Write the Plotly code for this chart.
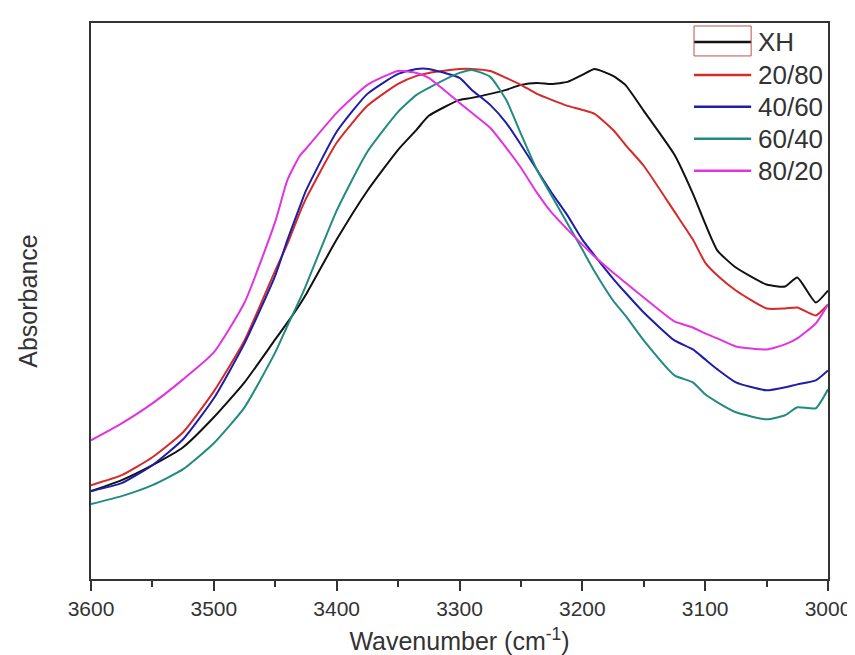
import plotly.graph_objects as go

# Wavenumber grid (cm^-1), descending
wavenumber = [3600, 3575, 3550, 3525, 3500, 3475, 3450, 3440, 3430, 3425,
              3400, 3375, 3350, 3335, 3325, 3300, 3290, 3275, 3262, 3250,
              3237, 3225, 3212, 3200, 3190, 3175, 3165, 3150, 3125, 3110,
              3100, 3090, 3075, 3050, 3035, 3025, 3010, 3000]

# Absorbance (arbitrary units)
xh = [88, 99, 114, 132, 162, 197, 240, 257, 275, 285,
      340, 389, 430, 450, 464, 480, 482, 486, 490, 495,
      497, 496, 498, 505, 511, 504, 495, 469, 425, 386,
      356, 329, 312, 295, 293, 302, 277, 289]
s20_80 = [94, 104, 122, 147, 188, 239, 309, 336, 367, 381,
          437, 474, 496, 504, 507, 511, 511, 509, 502, 495,
          486, 480, 474, 470, 466, 450, 435, 414, 368, 340,
          317, 304, 289, 271, 271, 272, 264, 275]
s40_60 = [88, 96, 114, 140, 181, 236, 304, 340, 373, 389,
          448, 486, 506, 511, 511, 502, 490, 475, 457, 435,
          410, 387, 364, 340, 324, 301, 287, 267, 239, 230,
          220, 210, 197, 189, 192, 195, 199, 209]
s60_40 = [75, 83, 94, 110, 136, 172, 227, 254, 280, 294,
          369, 428, 468, 485, 492, 507, 510, 503, 480, 446,
          410, 384, 356, 330, 308, 279, 264, 239, 204, 197,
          185, 177, 167, 160, 164, 172, 171, 190]
s80_20 = [139, 156, 176, 200, 227, 277, 358, 400, 424, 431,
          467, 495, 509, 507, 502, 477, 467, 452, 432, 412,
          387, 367, 350, 335, 323, 307, 297, 282, 258, 252,
          246, 241, 233, 230, 235, 241, 256, 275]

names = ["XH", "20/80", "40/60", "60/40", "80/20"]
series = [xh, s20_80, s40_60, s60_40, s80_20]
colors = ["#111111", "#d42a2a", "#1e1ea6", "#228a80", "#e034e0"]
x_ticks = [3600, 3500, 3400, 3300, 3200, 3100, 3000]

W, H = 855, 655
L, R, T, B = 83, 831, 15, 572


def px_x(p):
    return (p - L) / (R - L)


def px_y(p):
    return (B - p) / (B - T)


fig = go.Figure()
for nm, ys, c in zip(names, series, colors):
    fig.add_trace(go.Scatter(x=wavenumber, y=ys, mode="lines", name=nm,
                             line=dict(color=c, width=2, shape="spline", smoothing=0.5),
                             showlegend=False))

font_family = "Liberation Sans, Arial, sans-serif"
axis_col = "#333333"

fig.update_layout(
    width=W, height=H,
    margin=dict(l=L, r=W - R, t=T, b=H - B),
    paper_bgcolor="white", plot_bgcolor="white",
    font=dict(family=font_family, color=axis_col),
    xaxis=dict(
        range=[3600, 3000], autorange=False,
        tickvals=x_ticks, ticktext=[str(v) for v in x_ticks],
        ticks="outside", ticklen=10, tickwidth=1.5, tickcolor=axis_col,
        minor=dict(ticks="outside", ticklen=6, dtick=50, tickwidth=1.5, tickcolor=axis_col, showgrid=False),
        showline=True, linecolor=axis_col, linewidth=1.5, mirror=True,
        showgrid=False, zeroline=False,
        tickfont=dict(size=21, color=axis_col),
        title=dict(text="Wavenumber (cm<sup>-1</sup>)", font=dict(size=25, color=axis_col), standoff=14),
    ),
    yaxis=dict(
        range=[0, 557], autorange=False,
        showticklabels=False, ticks="",
        showline=True, linecolor=axis_col, linewidth=1.5, mirror=True,
        showgrid=False, zeroline=False,
        title=dict(text="Absorbance", font=dict(size=25, color=axis_col), standoff=45),
    ),
)

# Legend drawn as line samples + text
leg_y = [34, 67, 99, 131, 163]
for nm, c, yy in zip(names, colors, leg_y):
    fig.add_shape(type="line", xref="paper", yref="paper",
                  x0=px_x(695), x1=px_x(753), y0=px_y(yy), y1=px_y(yy),
                  line=dict(color=c, width=2.5))
    fig.add_annotation(xref="paper", yref="paper", x=px_x(758), y=px_y(yy),
                       text=nm, showarrow=False, xanchor="left", yanchor="middle",
                       font=dict(size=26, color=axis_col, family=font_family))

# thin red selection box around the first legend sample
fig.add_shape(type="rect", xref="paper", yref="paper",
              x0=px_x(695), x1=px_x(753), y0=px_y(48), y1=px_y(18),
              line=dict(color="#c05050", width=1))

fig.write_html("out.html")
